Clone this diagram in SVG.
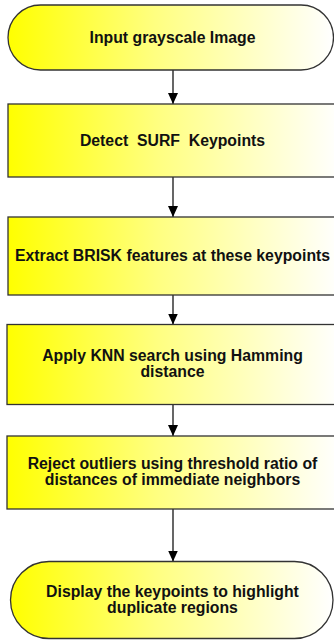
<svg xmlns="http://www.w3.org/2000/svg" width="334" height="640" viewBox="0 0 334 640">
<defs>
<linearGradient id="fill" x1="0" y1="0" x2="1" y2="0">
<stop offset="0" stop-color="#ffff00"/>
<stop offset="0.45" stop-color="#ffff80"/>
<stop offset="1" stop-color="#ffffff"/>
</linearGradient>
<marker id="arrow" markerUnits="userSpaceOnUse" viewBox="0 0 11 10" refX="11" refY="5" markerWidth="11" markerHeight="10" orient="auto">
<path d="M0,0 L11,5 L0,10 z" fill="#000"/>
</marker>
<style>
.shape{fill:url(#fill);stroke:#333;stroke-width:1.3}
.label{font-family:"Liberation Sans",Arial,sans-serif;font-weight:bold;font-size:15.8px;fill:#111;text-anchor:middle;white-space:pre}
.conn{stroke:#000;stroke-width:1.2;fill:none;marker-end:url(#arrow)}
</style>
</defs>
<rect width="334" height="640" fill="#fff"/>
<g id="connectors">
<line class="conn" x1="173" y1="70" x2="173" y2="104"/>
<line class="conn" x1="173" y1="177" x2="173" y2="217"/>
<line class="conn" x1="173" y1="295" x2="173" y2="324.5"/>
<line class="conn" x1="173" y1="404.5" x2="173" y2="436"/>
<line class="conn" x1="173" y1="509" x2="173" y2="561.5"/>
</g>
<g id="n1">
<rect class="shape" x="8" y="5" width="325.5" height="65" rx="32.5" ry="32.5"/>
<text class="label" x="172.5" y="42.5">Input grayscale Image</text>
</g>
<g id="n2">
<rect class="shape" x="8" y="104" width="332" height="73"/>
<text class="label" x="172.5" y="145.5">Detect  SURF  Keypoints</text>
</g>
<g id="n3">
<rect class="shape" x="8" y="217" width="332" height="78"/>
<text class="label" x="172.5" y="260.7">Extract BRISK features at these keypoints</text>
</g>
<g id="n4">
<rect class="shape" x="7" y="324.5" width="333" height="80"/>
<text class="label" x="172.5" y="360.5">Apply KNN search using Hamming</text>
<text class="label" x="172.5" y="377">distance</text>
</g>
<g id="n5">
<rect class="shape" x="7" y="436" width="333" height="73"/>
<text class="label" x="172.5" y="468.7">Reject outliers using threshold ratio of</text>
<text class="label" x="172.5" y="485.2">distances of immediate neighbors</text>
</g>
<g id="n6">
<rect class="shape" x="10.5" y="561.5" width="322.5" height="77" rx="38.5" ry="38.5"/>
<text class="label" x="172.5" y="596.7">Display the keypoints to highlight</text>
<text class="label" x="172.5" y="613.3">duplicate regions</text>
</g>
</svg>
